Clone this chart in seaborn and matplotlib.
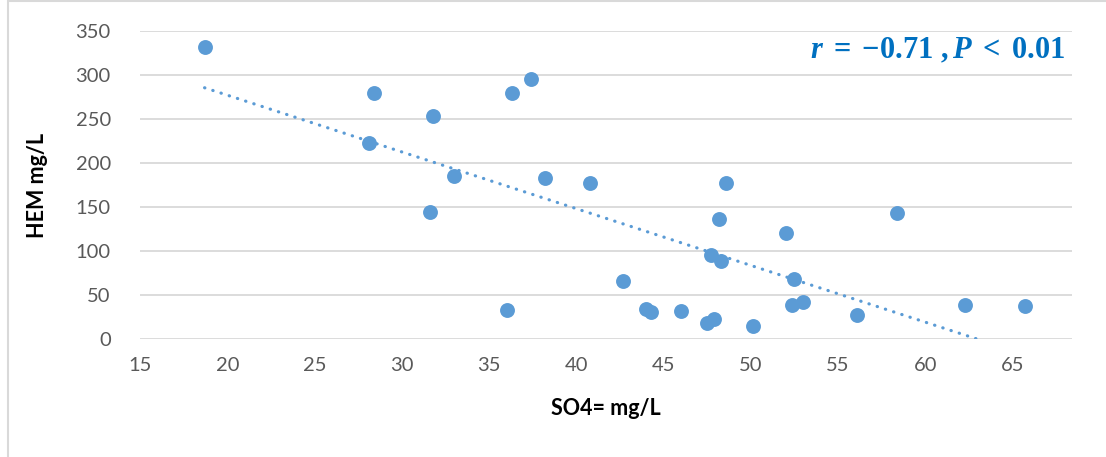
import matplotlib
matplotlib.use("Agg")
from matplotlib import pyplot as plt
from matplotlib.patches import Rectangle
import pandas as pd
import seaborn as sns

so4 = [18.7, 28.4, 31.8, 28.1, 33.0, 36.3, 37.4, 38.2, 40.8, 48.6,
       31.6, 48.2, 47.7, 48.3, 42.7, 36.0, 44.0, 44.3, 46.0, 47.5,
       47.9, 50.1, 52.0, 58.4, 52.5, 52.35, 53.0, 56.1, 62.25, 65.7]
hem = [332, 280, 253, 223, 185, 280, 296, 183, 177, 178,
       144, 137, 96, 89, 66, 33, 34, 31, 32, 19,
       23, 15, 121, 143, 69, 39, 42, 28, 39, 38]
x_ticks = [15, 20, 25, 30, 35, 40, 45, 50, 55, 60, 65]
y_ticks = [0, 50, 100, 150, 200, 250, 300, 350]

df = pd.DataFrame({"SO4": so4, "HEM": hem})

sns.set_style("whitegrid")
plt.rcParams["font.family"] = ["Lato", "DejaVu Sans"]
plt.rcParams["mathtext.fontset"] = "custom"
plt.rcParams["mathtext.rm"] = "Liberation Serif:bold"
plt.rcParams["mathtext.it"] = "Liberation Serif:italic:bold"
plt.rcParams["mathtext.bf"] = "Liberation Serif:bold"

blue = "#5B9BD5"
fig = plt.figure(figsize=(11.06, 4.57), dpi=100)
ax = fig.add_axes([140 / 1106, 1 - 339.3 / 457, 932 / 1106, 308.3 / 457])

sns.regplot(data=df, x="SO4", y="HEM", ax=ax, ci=None,
            scatter_kws={"s": 115, "color": blue, "linewidths": 0, "alpha": 1, "zorder": 3},
            line_kws={"color": blue, "lw": 2.3, "linestyle": (0, (0.1, 2.6)),
                      "dash_capstyle": "round", "zorder": 2})

ax.set_xlim(15, 68.4)
ax.set_ylim(0, 350)
ax.set_xticks(x_ticks)
ax.set_yticks(y_ticks)
ax.grid(axis="y", color="#D9D9D9", lw=1.3)
ax.grid(axis="x", visible=False)
for s in ax.spines.values():
    s.set_visible(False)
ax.tick_params(axis="both", length=0, labelsize=14.5, labelcolor="#595959")
ax.tick_params(axis="y", pad=21)
ax.tick_params(axis="x", pad=13)

ax.set_xlabel("SO4= mg/L", fontsize=15.5, fontweight="bold", color="black", labelpad=17)
ax.set_ylabel("HEM mg/L", fontsize=15.5, fontweight="bold", color="black", labelpad=20)

ax.text(1066 / 1106, 1 - 50 / 457, r"$r\;=\;{-}0.71\ ,P\;<\;0.01$", transform=fig.transFigure,
        ha="right", va="center", fontsize=22, color="#0070C0")

fig.patches.append(Rectangle((7.5 / 1106, -0.1), 1.2, 1.1 - 1.5 / 457, transform=fig.transFigure,
                             fill=False, edgecolor="#D9D9D9", lw=1.5))

fig.savefig("out.png", dpi=100)
